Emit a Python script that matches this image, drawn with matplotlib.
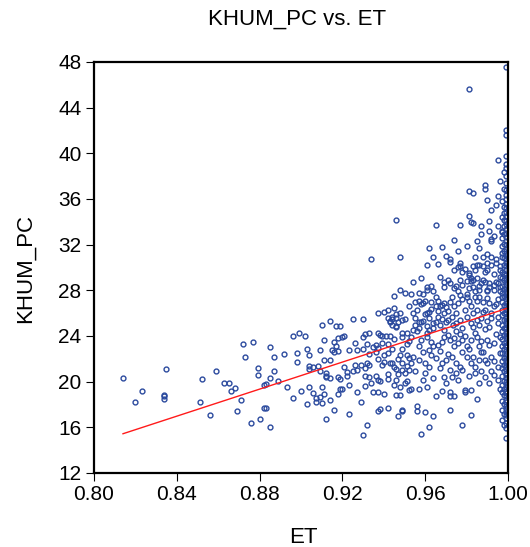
"""
KHUM_PC vs. ET scatter with fitted line
"""
import matplotlib
matplotlib.use('Agg')
import matplotlib.pyplot as plt

# scattered points (ET, KHUM_PC)
et = [0.814, 0.823, 0.820, 0.835, 0.834, 0.834, 0.834, 0.852, 0.851, 0.859,
      0.856, 0.863, 0.865, 0.866, 0.868, 0.871, 0.869, 0.872, 0.877, 0.873,
      0.879, 0.879, 0.882, 0.882, 0.880, 0.876,
      0.946, 0.934, 0.948, 0.948, 0.945, 0.945, 0.942, 0.940, 0.937, 0.948,
      0.949, 0.946, 0.944, 0.943, 0.943, 0.946, 0.925, 0.930, 0.914, 0.910,
      0.917, 0.919, 0.896, 0.899, 0.902, 0.885, 0.887, 0.892, 0.898, 0.898,
      0.903, 0.904, 0.909, 0.911, 0.915, 0.916, 0.917, 0.918, 0.920, 0.921,
      0.918, 0.916, 0.923, 0.926, 0.927, 0.930, 0.931, 0.933, 0.932, 0.935,
      0.933, 0.937, 0.939, 0.941, 0.939, 0.936, 0.942, 0.937, 0.936, 0.942,
      0.945, 0.949, 0.951, 0.949, 0.948, 0.951,
      0.904, 0.904, 0.906, 0.908, 0.909, 0.911, 0.914, 0.912, 0.912, 0.887,
      0.885, 0.883, 0.889, 0.893, 0.912, 0.914, 0.918, 0.919, 0.922, 0.922,
      0.921, 0.923, 0.920, 0.926, 0.925, 0.927, 0.929, 0.931, 0.931, 0.932,
      0.933, 0.933, 0.931, 0.936, 0.937, 0.934, 0.938, 0.937, 0.939, 0.940,
      0.943, 0.944, 0.945, 0.946, 0.947, 0.949, 0.949, 0.950, 0.951, 0.952,
      0.942, 0.942, 0.945, 0.946, 0.948, 0.951, 0.952, 0.950,
      0.904, 0.906, 0.907, 0.909, 0.907, 0.910, 0.911, 0.910, 0.914, 0.903,
      0.896, 0.900, 0.918, 0.919, 0.923, 0.916, 0.912, 0.927, 0.929, 0.932,
      0.930, 0.935, 0.937, 0.940, 0.937, 0.938, 0.942, 0.947, 0.949, 0.946,
      0.883, 0.885,
      0.995, 0.981, 0.983, 0.989, 0.989, 0.995, 0.992, 0.981, 0.982, 0.983,
      0.965, 0.977, 0.987, 0.987, 0.991, 0.995, 0.991, 0.992, 0.992, 0.974,
      0.962, 0.964, 0.961, 0.970, 0.972, 0.972, 0.976, 0.977, 0.976, 0.974,
      0.986, 0.984, 0.988, 0.990, 0.992, 0.994, 0.990, 0.988, 0.986, 0.983,
      0.981, 0.982, 0.983, 0.997, 0.996, 0.996, 0.995, 0.969, 0.969, 0.972,
      0.974, 0.978, 0.980, 0.982, 0.986, 0.989, 0.990, 0.993, 0.991, 0.954,
      0.957, 0.959, 0.961, 0.963, 0.964, 0.960, 0.959, 0.955, 0.965, 0.967,
      0.969, 0.970, 0.972, 0.974, 0.976, 0.978, 0.980, 0.981, 0.982, 0.984,
      0.986, 0.988, 0.991, 0.993, 0.954, 0.956, 0.961, 0.959, 0.962, 0.964,
      0.966, 0.967, 0.969, 0.971, 0.973, 0.975, 0.977, 0.980, 0.982, 0.985,
      0.987, 0.990, 0.991, 0.995, 0.949, 0.953, 0.956, 0.958, 0.961, 0.963,
      0.964, 0.962, 0.966, 0.969, 0.972, 0.974, 0.976, 0.978, 0.980, 0.982,
      0.985, 0.986, 0.990, 0.993, 0.996, 0.952, 0.954, 0.953, 0.957, 0.960,
      0.962, 0.965, 0.968, 0.970, 0.972, 0.975, 0.977, 0.980, 0.982, 0.984,
      0.986, 0.990, 0.992, 0.995, 0.953, 0.957, 0.959, 0.961, 0.965, 0.968,
      0.972, 0.974, 0.976, 0.979, 0.982, 0.985, 0.982, 0.978, 0.972, 0.964,
      0.962, 0.958, 0.956, 0.956, 0.960, 0.949, 0.948, 0.969, 0.970, 0.975,
      0.984, 0.989, 0.991, 0.995, 0.986, 0.979, 0.992, 0.972, 0.930,
      0.953, 0.961, 0.957, 0.962, 0.965, 0.966, 0.968, 0.942, 0.944, 0.946,
      0.950, 0.947, 0.944, 0.938, 0.943, 0.946, 0.955, 0.957, 0.961, 0.965,
      0.970, 0.9735, 0.951, 0.954, 0.957, 0.962, 0.969, 0.975, 0.978, 0.983,
      0.986, 0.989, 0.995, 0.992, 0.989, 0.985, 0.977, 0.978, 0.981, 0.984,
      0.985, 0.990, 0.992, 0.994, 0.996, 0.985, 0.988, 0.991, 0.994, 0.996,
      0.977, 0.983, 0.986, 0.990, 0.993, 0.996, 0.997, 0.995, 0.977, 0.980,
      0.984, 0.981,
      0.958, 0.960, 0.963, 0.966, 0.968, 0.971, 0.973, 0.975, 0.976, 0.979,
      0.981, 0.983, 0.985, 0.987, 0.988, 0.990, 0.992, 0.994, 0.993, 0.989,
      0.979, 0.975, 0.971, 0.967, 0.963, 0.958, 0.961, 0.964, 0.968, 0.971,
      0.974, 0.977, 0.979, 0.981, 0.984, 0.987, 0.988, 0.991, 0.994, 0.996,
      0.959, 0.963, 0.967, 0.971, 0.973, 0.978, 0.983, 0.987, 0.989, 0.993,
      0.955, 0.960, 0.964, 0.967, 0.973, 0.978, 0.981, 0.987, 0.993, 0.996,
      0.957, 0.955, 0.952, 0.950, 0.958, 0.966, 0.968, 0.980, 0.985, 0.993,
      0.997, 0.998, 0.994, 0.990, 0.996, 0.998, 0.952, 0.947, 0.944, 0.940]
khum = [20.35, 19.2, 18.2, 21.1, 18.5, 18.7, 18.8, 20.2, 18.2, 20.9,
        17.1, 19.9, 19.9, 19.2, 19.45, 18.4, 17.4, 23.3, 23.5, 22.2,
        21.2, 20.6, 19.7, 17.7, 16.7, 16.35,
        34.2, 30.7, 30.9, 28.0, 27.5, 26.45, 26.3, 26.1, 26.0, 26.0,
        25.4, 25.6, 25.5, 25.3, 25.2, 24.8, 25.5, 25.5, 25.3, 25.0,
        24.9, 24.9, 24.0, 24.3, 24.0, 23.0, 22.2, 22.4, 22.5, 21.7,
        22.9, 22.3, 22.8, 23.65, 22.8, 23.45, 23.1, 23.8, 23.9, 24.0,
        22.7, 22.6, 22.75, 23.4, 22.8, 22.9, 24.2, 24.3, 23.3, 23.0,
        22.4, 24.3, 24.0, 24.0, 23.4, 23.25, 23.3, 22.95, 22.6, 22.5,
        23.7, 23.9, 23.3, 22.9, 22.3, 22.3,
        21.4, 21.1, 21.3, 21.4, 20.9, 21.9, 21.9, 20.8, 20.5, 20.9,
        20.3, 19.8, 20.1, 19.5, 20.4, 20.3, 20.4, 20.2, 20.5, 20.85,
        21.3, 19.7, 19.4, 21.5, 20.9, 21.0, 21.5, 21.2, 20.5, 21.6,
        21.5, 20.4, 19.6, 20.5, 20.15, 19.9, 20.1, 22.0, 21.5, 21.7,
        21.6, 21.6, 21.3, 21.1, 20.7, 21.0, 21.6, 20.8, 21.4, 21.0,
        20.7, 20.2, 19.7, 20.15, 19.5, 20.1, 19.3, 19.9,
        19.5, 19.0, 18.6, 18.65, 18.2, 19.5, 18.9, 18.1, 18.4, 18.0,
        18.55, 19.2, 18.95, 19.4, 17.2, 17.5, 16.7, 19.1, 18.2, 16.2,
        15.3, 19.1, 19.1, 18.9, 17.4, 17.6, 17.7, 17.0, 17.4, 18.8,
        17.7, 16.0,
        39.4, 36.7, 36.5, 37.2, 36.9, 36.3, 35.0, 34.5, 33.95, 33.9,
        33.7, 33.75, 33.6, 32.9, 34.1, 33.6, 33.2, 32.5, 32.35, 32.4,
        31.7, 30.9, 30.2, 31.0, 30.7, 30.5, 31.4, 30.4, 30.0, 29.75,
        31.7, 30.9, 30.9, 31.2, 30.9, 30.4, 30.4, 30.1, 30.2, 30.1,
        29.5, 29.1, 28.9, 31.25, 29.8, 29.2, 28.6, 28.7, 28.3, 28.6,
        28.2, 28.5, 28.8, 28.8, 28.35, 28.7, 28.0, 28.5, 28.3, 28.7,
        27.8, 27.7, 28.3, 28.4, 27.9, 27.1, 26.9, 27.0, 27.45, 26.65,
        26.9, 26.5, 27.0, 26.6, 26.9, 27.2, 27.7, 27.1, 26.6, 27.9,
        27.45, 27.0, 26.9, 26.6, 26.0, 26.3, 26.0, 25.3, 25.55, 25.1,
        25.7, 25.0, 26.0, 25.4, 25.7, 25.1, 25.4, 25.7, 25.1, 25.4,
        25.55, 25.35, 24.8, 25.1, 24.25, 23.9, 24.4, 23.65, 23.9, 23.5,
        23.1, 22.8, 23.2, 23.9, 23.65, 23.1, 23.4, 23.65, 23.1, 23.65,
        23.9, 23.1, 23.65, 23.4, 23.9, 22.1, 22.2, 21.6, 21.9, 21.6,
        21.3, 22.05, 21.6, 21.9, 21.0, 21.6, 21.3, 22.2, 21.6, 21.3,
        21.9, 21.6, 22.2, 21.3, 19.35, 19.4, 20.15, 19.55, 18.75, 19.2,
        19.1, 18.7, 20.15, 19.3, 19.3, 18.45, 17.1, 16.2, 17.5, 17.0,
        16.05, 15.4, 17.9, 17.4, 17.3, 17.5, 18.8, 20.4, 19.9, 20.75,
        20.75, 20.4, 19.9, 20.15, 19.9, 19.1, 20.9, 18.75, 23.95,
        27.7, 28.0, 27.05, 26.1, 26.6, 26.2, 26.7, 25.55, 25.7, 25.9,
        25.45, 25.2, 25.0, 24.1, 24.0, 24.85, 25.0, 25.2, 24.9, 25.25,
        25.25, 25.0, 24.3, 24.5, 24.7, 24.5, 24.5, 24.4, 24.7, 24.8,
        24.95, 24.6, 25.7, 26.0, 26.3, 26.3, 30.1, 29.6, 29.35, 29.8,
        30.2, 29.8, 30.2, 30.7, 30.1, 29.05, 28.9, 28.6, 28.75, 28.3,
        28.9, 28.3, 28.0, 27.9, 28.0, 27.9, 27.45, 27.2, 27.6, 27.45,
        27.45, 45.6,
        26.8, 25.9, 26.4, 27.1, 25.5, 26.2, 27.4, 26.0, 27.9, 26.3,
        28.2, 26.0, 27.1, 28.6, 26.1, 27.3, 25.6, 26.8, 29.4, 29.6,
        29.9, 28.4, 28.9, 29.2, 27.0, 25.2, 24.3, 24.7, 23.5, 24.1,
        23.8, 24.2, 24.0, 22.9, 24.3, 23.6, 22.6, 23.2, 24.2, 22.5,
        22.6, 22.3, 22.7, 22.4, 22.2, 22.6, 22.2, 22.6, 21.9, 21.8,
        20.9, 20.8, 20.3, 21.2, 20.4, 21.0, 20.5, 20.9, 20.6, 19.4,
        23.1, 25.6, 26.6, 27.8, 29.1, 30.3, 31.8, 31.9, 32.3, 32.8,
        33.1, 34.8, 35.5, 35.9, 37.6, 38.4, 23.6, 22.0, 22.9, 22.3]

# points sitting on ET = 1 (right edge column)
col_et = 0.999
col_khum = [47.6, 42.05, 41.6, 39.8, 39.1, 38.7, 38.0, 37.4, 36.8, 36.35,
            36.0, 35.6, 35.2, 34.9, 34.5, 34.1, 33.8, 33.4, 33.0, 32.7,
            32.3, 32.0, 31.6, 31.3, 31.0, 30.7, 30.4, 30.1, 29.8, 29.5,
            29.3, 29.0, 28.7, 28.5, 28.2, 27.9, 27.7, 27.4, 27.2, 26.9,
            26.6, 26.4, 26.1, 25.9, 25.6, 25.3, 25.1, 24.8, 24.6, 24.3,
            24.0, 23.8, 23.5, 23.2, 23.0, 22.7, 22.4, 22.2, 21.9, 21.6,
            21.4, 21.1, 20.8, 20.6, 20.3, 20.0, 19.8, 19.5, 19.2, 19.0,
            18.7, 18.4, 18.2, 17.9, 17.6, 17.3, 17.1, 16.8, 16.4, 15.9,
            15.1]
col2_et = 0.997
col2_khum = [35.8, 34.4, 33.2, 32.6, 31.9, 30.9, 29.6, 29.1, 28.4, 27.8,
             27.0, 26.3, 25.8, 25.0, 24.4, 23.7, 23.1, 22.5, 21.8, 21.2,
             20.5, 19.7, 19.1, 18.3, 17.5, 16.6]
col3_et = 0.998
col3_khum = [36.9, 35.3, 34.2, 33.6, 32.9, 32.1, 31.4, 30.8, 30.2, 29.4,
             28.9, 28.1, 27.5, 26.7, 26.0, 25.4, 24.7, 24.1, 23.4, 22.9,
             22.1, 21.5, 20.9, 20.1, 19.4, 18.8, 18.0, 17.2, 16.2]

# regression line
fit_slope = 59.2
fit_intercept = -32.75

x_ticks = [0.80, 0.84, 0.88, 0.92, 0.96, 1.00]
y_ticks = [12, 16, 20, 24, 28, 32, 36, 40, 44, 48]

all_et = (et + [col_et] * len(col_khum) + [col2_et] * len(col2_khum)
          + [col3_et] * len(col3_khum))
all_khum = khum + col_khum + col2_khum + col3_khum

plt.rcParams['font.family'] = ['Liberation Sans', 'DejaVu Sans']
fig = plt.figure(figsize=(5.30, 5.47), dpi=100)
ax = fig.add_axes([0.1774, 0.1353, 0.7811, 0.7514])

ax.plot(all_et, all_khum, 'o', ms=3.5, mfc='none', mec='#2b4a9e', mew=1.0)
x0 = min(all_et)
x1 = 1.0
ax.plot([x0, x1], [fit_intercept + fit_slope*x0, fit_intercept + fit_slope*x1],
        color='#ff1a1a', lw=1.0)

ax.set_xlim(0.80, 1.00)
ax.set_ylim(12, 48)
ax.set_xticks(x_ticks)
ax.set_xticklabels(['%.2f' % v for v in x_ticks])
ax.set_yticks(y_ticks)
ax.tick_params(direction='out', length=6, width=0.8, labelsize=15, pad=3)
for s in ax.spines.values():
    s.set_linewidth(1.6)

fig.text(0.561, 0.965, 'KHUM_PC vs. ET', ha='center', va='center', fontsize=16)
fig.text(0.572, 0.018, 'ET', ha='center', va='center', fontsize=16)
fig.text(0.048, 0.51, 'KHUM_PC', ha='center', va='center', rotation=90, fontsize=16)

fig.savefig('out.png', dpi=100)
